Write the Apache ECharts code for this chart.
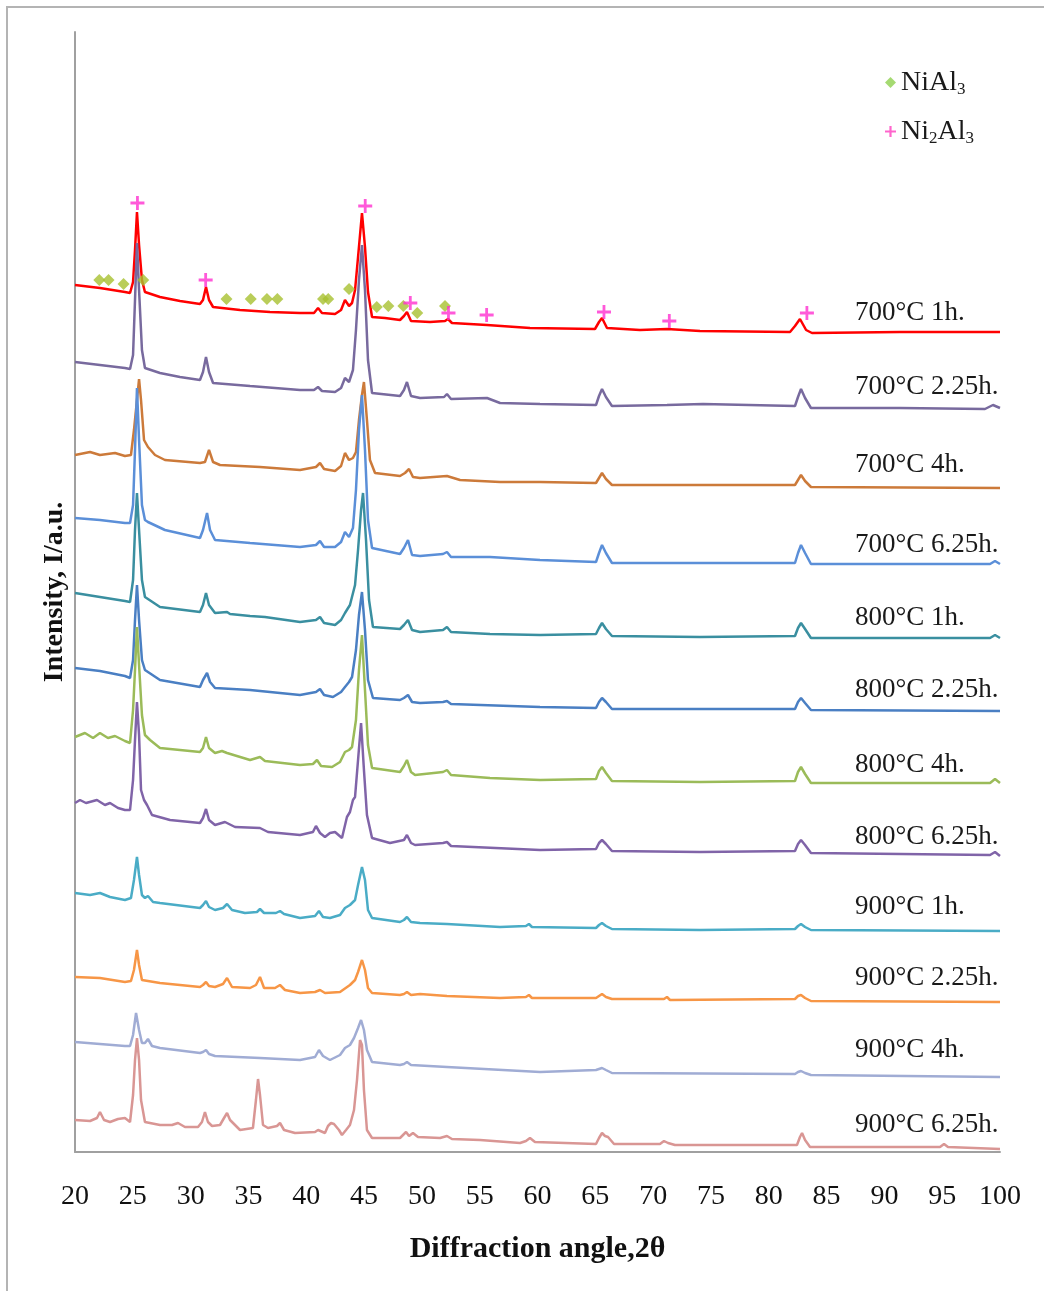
<!DOCTYPE html>
<html>
<head>
<meta charset="utf-8">
<script src="https://cdn.jsdelivr.net/npm/echarts@6/dist/echarts.min.js"></script>
<style>
  html, body { margin: 0; padding: 0; background: #fff; }
  #chart { width: 1044px; height: 1291px; }
</style>
</head>
<body>
<div id="chart"></div>
<script>
// XRD patterns of Ni-Al coatings, stacked by treatment (2θ, intensity offset in a.u.)
const sampleNames = ['700°C 1h.', '700°C 2.25h.', '700°C 4h.', '700°C 6.25h.',
  '800°C 1h.', '800°C 2.25h.', '800°C 4h.', '800°C 6.25h.',
  '900°C 1h.', '900°C 2.25h.', '900°C 4h.', '900°C 6.25h.'];

const xTicks = [20, 25, 30, 35, 40, 45, 50, 55, 60, 65, 70, 75, 80, 85, 90, 95, 100];

const p700_1h = [[20.00,867],[22.16,864],[24.32,860],[24.76,859],[25.02,870],[25.19,902],[25.36,940],[25.54,907],[25.79,872],[26.05,860],[27.35,855],[29.08,851],[30.81,848],[31.07,852],[31.33,865],[31.59,852],[31.94,845],[34.27,842],[36.86,840],[39.46,839],[40.67,839],[41.02,844],[41.36,839],[42.49,838],[43.01,842],[43.35,852],[43.70,846],[43.96,849],[44.22,862],[44.48,895],[44.82,939],[45.08,905],[45.34,860],[45.69,835],[46.81,834],[48.11,832],[48.45,836],[48.71,840],[49.06,831],[50.70,830],[52.00,831],[52.26,833],[52.60,829],[55.63,827],[59.35,824],[64.97,823],[65.32,830],[65.58,834],[66.01,824],[68.86,822],[71.20,823],[74.05,821],[81.84,820],[82.27,826],[82.70,833],[83.23,822],[83.74,819],[91.35,820],[100,820]];

const p700_225h = [[20.00,790],[22.16,787],[24.32,784],[24.76,783],[25.02,797],[25.19,852],[25.36,909],[25.54,862],[25.79,802],[26.05,784],[27.35,779],[29.08,775],[30.81,772],[31.07,780],[31.33,795],[31.59,780],[31.94,769],[35.14,766],[39.46,762],[40.67,762],[41.02,765],[41.36,761],[42.49,760],[43.01,764],[43.35,774],[43.70,770],[44.04,782],[44.30,822],[44.56,872],[44.82,907],[45.08,862],[45.34,792],[45.69,759],[48.11,756],[48.45,762],[48.71,770],[49.06,756],[49.84,754],[51.92,755],[52.17,758],[52.52,753],[55.63,754],[56.76,749],[60.22,748],[65.06,747],[65.32,756],[65.58,763],[65.92,755],[66.44,746],[71.20,747],[74.31,748],[82.27,746],[82.53,755],[82.79,763],[83.14,754],[83.65,744],[91.35,744],[98.70,743],[99.39,747],[100,744]];

const p700_4h = [[20.00,697],[21.30,700],[22.16,697],[23.46,699],[24.32,696],[24.84,697],[25.10,722],[25.36,752],[25.54,773],[25.71,752],[25.97,712],[26.31,705],[26.92,697],[27.78,692],[30.81,689],[31.24,690],[31.59,702],[31.94,690],[32.54,687],[36.00,685],[39.46,682],[40.84,685],[41.19,689],[41.54,683],[42.49,681],[43.01,686],[43.35,699],[43.70,692],[44.04,694],[44.30,700],[44.56,732],[44.82,757],[44.99,770],[45.25,732],[45.51,692],[45.95,679],[48.11,676],[48.54,679],[48.89,683],[49.23,675],[49.84,674],[52.17,676],[53.30,672],[56.76,670],[60.22,670],[65.06,669],[65.32,674],[65.58,679],[65.92,673],[66.44,667],[74.05,667],[82.27,667],[82.53,672],[82.79,677],[83.14,671],[83.65,665],[100,664]];

const p700_625h = [[20.00,634],[22.16,632],[24.32,629],[24.76,629],[25.02,647],[25.19,702],[25.36,764],[25.54,712],[25.79,647],[26.05,632],[26.31,630],[27.78,622],[30.81,614],[31.07,622],[31.42,639],[31.68,622],[32.11,612],[35.14,609],[39.46,605],[40.84,607],[41.19,611],[41.54,605],[42.49,605],[43.01,610],[43.35,620],[43.70,615],[44.04,624],[44.30,662],[44.56,722],[44.82,757],[45.08,702],[45.34,632],[45.69,604],[48.11,598],[48.45,604],[48.80,612],[49.15,597],[49.84,596],[51.83,598],[52.17,600],[52.52,595],[55.89,595],[60.22,592],[65.06,590],[65.32,599],[65.58,607],[65.92,599],[66.44,589],[74.05,589],[82.27,589],[82.53,599],[82.79,607],[83.14,599],[83.65,588],[99.14,588],[99.57,591],[100,588]];

const p800_1h = [[20.00,559],[22.16,555],[24.32,551],[24.76,550],[25.02,572],[25.19,622],[25.36,659],[25.54,622],[25.79,572],[26.05,555],[27.35,545],[30.81,540],[31.07,547],[31.33,559],[31.59,547],[32.11,539],[33.15,540],[33.41,538],[35.14,536],[36.43,535],[39.46,530],[40.84,532],[41.19,535],[41.54,529],[42.49,527],[43.01,532],[43.35,539],[43.78,547],[44.22,567],[44.48,602],[44.74,642],[44.91,659],[45.17,612],[45.43,552],[45.77,525],[48.11,523],[48.45,527],[48.80,532],[49.15,522],[49.84,520],[51.83,522],[52.17,525],[52.52,520],[55.89,518],[60.22,517],[65.06,518],[65.32,524],[65.58,529],[65.92,523],[66.44,516],[74.05,515],[82.27,516],[82.53,524],[82.79,529],[83.14,523],[83.65,514],[99.14,514],[99.57,517],[100,514]];

const p800_225h = [[20.00,484],[22.16,481],[24.32,476],[24.76,474],[25.02,492],[25.19,532],[25.36,567],[25.54,532],[25.79,492],[26.05,482],[27.35,472],[30.81,465],[31.07,472],[31.42,479],[31.68,470],[32.11,464],[35.14,462],[39.46,457],[40.84,460],[41.19,463],[41.54,457],[42.31,455],[43.01,460],[43.35,465],[43.70,470],[43.96,475],[44.30,502],[44.56,537],[44.82,560],[45.08,522],[45.34,472],[45.77,454],[48.11,452],[48.45,454],[48.80,457],[49.15,450],[49.84,449],[51.83,450],[52.17,451],[52.52,448],[60.22,445],[65.06,444],[65.32,450],[65.58,454],[65.92,450],[66.44,443],[74.05,443],[82.27,443],[82.53,450],[82.79,454],[83.14,449],[83.65,442],[100,441]];

const p800_4h = [[20.00,415],[20.86,419],[21.56,414],[22.16,419],[22.85,414],[23.46,416],[24.32,411],[24.76,409],[25.02,442],[25.19,482],[25.36,525],[25.54,487],[25.79,437],[26.05,417],[26.49,412],[27.35,404],[30.81,400],[31.07,404],[31.33,415],[31.59,404],[32.11,399],[32.71,401],[33.15,399],[35.14,392],[36.00,395],[36.43,391],[39.46,387],[40.58,388],[40.93,392],[41.28,386],[42.23,385],[42.92,390],[43.35,400],[43.70,402],[43.96,405],[44.30,432],[44.56,482],[44.82,517],[45.08,462],[45.34,407],[45.69,384],[48.11,380],[48.45,386],[48.71,392],[49.06,380],[49.41,377],[51.83,380],[52.17,382],[52.52,377],[55.89,374],[60.22,372],[65.06,373],[65.32,381],[65.58,385],[65.92,379],[66.44,371],[74.05,370],[82.27,371],[82.53,380],[82.79,385],[83.14,378],[83.65,369],[99.14,369],[99.57,373],[100,369]];

const p800_625h = [[20.00,349],[20.43,352],[20.95,349],[21.90,352],[22.59,347],[23.03,349],[23.72,344],[24.32,342],[24.76,342],[25.02,372],[25.19,412],[25.36,450],[25.54,417],[25.71,362],[25.97,352],[26.23,347],[26.66,337],[28.22,332],[30.81,329],[31.07,334],[31.33,343],[31.59,332],[32.11,327],[32.97,330],[33.84,325],[36.00,324],[36.69,320],[39.46,317],[40.58,320],[40.84,326],[41.19,319],[41.62,315],[42.05,319],[42.49,320],[43.09,314],[43.52,335],[43.78,340],[44.04,352],[44.22,355],[44.48,392],[44.74,429],[44.99,382],[45.25,337],[45.69,314],[47.24,309],[48.45,312],[48.71,317],[49.06,309],[49.41,307],[51.83,309],[52.17,310],[52.52,306],[60.22,302],[65.06,303],[65.32,309],[65.58,312],[65.92,308],[66.44,301],[74.05,300],[82.27,301],[82.53,308],[82.79,312],[83.14,307],[83.65,299],[99.14,297],[99.57,300],[100,296]];

const p900_1h = [[20.00,259],[21.30,257],[22.16,259],[23.03,255],[24.32,252],[24.84,254],[25.10,272],[25.36,295],[25.54,277],[25.79,257],[26.05,254],[26.31,256],[26.75,250],[27.35,249],[30.81,244],[31.07,247],[31.33,251],[31.59,245],[32.11,242],[32.80,244],[33.15,248],[33.58,242],[34.70,239],[35.74,240],[36.00,243],[36.35,239],[37.38,239],[37.73,241],[38.08,238],[39.46,234],[40.76,236],[41.10,241],[41.45,235],[42.05,234],[42.92,237],[43.35,244],[43.78,247],[44.22,252],[44.48,267],[44.82,285],[45.08,272],[45.34,242],[45.69,234],[48.11,230],[48.45,232],[48.71,235],[49.06,230],[49.84,229],[52.17,228],[56.76,225],[59.00,226],[59.26,228],[59.52,225],[65.06,224],[65.32,227],[65.58,229],[65.92,226],[66.44,223],[74.05,222],[82.27,223],[82.53,226],[82.79,228],[83.14,225],[83.65,222],[100,221]];

const p900_225h = [[20.00,175],[22.16,174],[24.32,170],[24.84,171],[25.10,182],[25.36,202],[25.54,187],[25.79,172],[26.31,171],[27.35,169],[30.81,165],[31.07,167],[31.33,170],[31.59,166],[32.11,165],[32.80,168],[33.15,174],[33.58,165],[35.14,164],[35.65,167],[36.00,175],[36.35,164],[37.30,164],[37.73,167],[38.16,162],[39.46,159],[40.76,160],[41.19,162],[41.62,159],[42.92,160],[43.78,167],[44.22,172],[44.48,180],[44.82,192],[45.08,182],[45.34,164],[45.69,159],[48.11,157],[48.45,158],[48.71,160],[49.06,157],[49.84,158],[52.17,156],[56.76,154],[59.00,155],[59.26,157],[59.52,154],[65.06,154],[65.32,156],[65.58,158],[65.92,155],[66.44,153],[70.94,153],[71.20,155],[71.46,152],[82.27,153],[82.53,156],[82.79,157],[83.14,154],[83.65,151],[100,150]];

const p900_4h = [[20.00,110],[22.16,108],[24.32,106],[24.76,106],[25.02,117],[25.28,139],[25.54,122],[25.79,109],[26.05,109],[26.31,113],[26.66,106],[27.35,104],[30.81,99],[31.07,100],[31.33,102],[31.59,98],[32.11,96],[36.00,94],[39.46,92],[40.76,95],[41.10,102],[41.45,96],[42.05,92],[42.92,97],[43.35,104],[43.78,107],[44.13,114],[44.48,124],[44.74,132],[44.99,122],[45.25,102],[45.69,90],[48.11,87],[48.45,88],[48.71,90],[49.06,87],[52.17,85],[60.22,80],[65.06,82],[65.32,83],[65.58,84],[65.92,82],[66.44,79],[82.27,78],[82.53,80],[82.79,81],[83.14,79],[83.65,77],[100,75]];

const p900_625h = [[20.00,32],[21.30,31],[21.90,34],[22.16,40],[22.51,32],[23.03,30],[23.72,33],[24.32,34],[24.76,30],[25.02,57],[25.19,92],[25.36,114],[25.54,92],[25.71,52],[26.05,30],[27.35,27],[28.39,27],[28.91,29],[29.51,25],[30.64,25],[30.98,30],[31.24,40],[31.50,30],[31.85,26],[32.54,27],[32.89,34],[33.15,39],[33.41,32],[34.27,22],[35.39,24],[35.65,52],[35.83,73],[36.00,57],[36.26,27],[36.69,24],[37.47,26],[37.73,29],[38.08,22],[39.03,19],[40.76,20],[41.02,22],[41.62,19],[41.88,26],[42.14,29],[42.40,28],[42.57,30],[42.83,22],[43.09,17],[43.44,22],[43.78,27],[44.13,42],[44.39,72],[44.65,112],[44.82,107],[44.99,62],[45.25,22],[45.69,14],[48.11,14],[48.37,17],[48.63,20],[48.89,16],[49.23,19],[49.66,15],[51.57,14],[52.17,16],[52.60,13],[55.03,12],[58.49,9],[59.00,11],[59.35,14],[59.78,10],[65.06,8],[65.32,14],[65.58,19],[65.84,16],[66.10,15],[66.62,8],[70.59,8],[70.94,11],[71.29,9],[71.89,7],[82.44,7],[82.70,15],[82.88,19],[83.14,12],[83.57,5],[94.81,5],[95.16,8],[95.50,5],[100,3]];

// phase markers drawn over the 700°C 1h. pattern
const niAl3Peaks = [[22.1,872],[22.9,872],[24.2,868],[25.9,872],[33.1,853],[35.2,853],[36.6,853],[37.5,853],[41.45,853],[41.9,853],[43.7,863],[46.1,845],[47.1,846],[48.4,846],[49.6,839],[52.0,846]];
const ni2Al3Peaks = [[25.4,949],[31.3,872],[45.1,946],[49.0,849],[52.3,839],[55.6,837],[65.75,840],[71.4,831],[83.3,839]];

const patterns = [p700_1h, p700_225h, p700_4h, p700_625h, p800_1h, p800_225h, p800_4h, p800_625h, p900_1h, p900_225h, p900_4h, p900_625h];

// anchor (2θ, intensity) for each pattern's caption
const captionX = 87.46;
const captionY = [839, 765, 687, 607, 534, 462, 387, 315, 245, 174, 102, 27];

const lineColors = ['#ff0000', '#786a9e', '#cc7a3a', '#5b8fd8', '#3a8fa0', '#4a7fc3',
  '#9bbb59', '#8064a8', '#4aacc6', '#f79646', '#a0acd4', '#d99694'];

const SERIF = '"Liberation Serif", "Times New Roman", serif';
const PLUS = 'path://M4,0H6V4H10V6H6V10H4V6H0V4H4Z';

const chart = echarts.init(document.getElementById('chart'), null, { renderer: 'canvas' });

const series = patterns.map((pts, i) => ({
  name: sampleNames[i],
  type: 'line',
  data: pts,
  showSymbol: false,
  symbol: 'none',
  smooth: false,
  lineStyle: { color: lineColors[i], width: 2.5 },
  z: 2,
  markPoint: {
    symbol: 'circle',
    symbolSize: 0,
    silent: true,
    data: [{
      coord: [captionX, captionY[i]],
      label: {
        show: true,
        position: 'right',
        distance: 0,
        formatter: sampleNames[i],
        fontFamily: SERIF,
        fontSize: 27,
        color: '#1a1a1a'
      }
    }]
  }
}));

series.push({
  name: 'NiAl3',
  type: 'scatter',
  data: niAl3Peaks,
  symbol: 'diamond',
  symbolSize: 12,
  itemStyle: { color: '#a8c030' },
  z: 5
});
series.push({
  name: 'Ni2Al3',
  type: 'scatter',
  data: ni2Al3Peaks,
  symbol: PLUS,
  symbolSize: 14,
  itemStyle: { color: '#ff30d0' },
  z: 6
});

const option = {
  animation: false,
  backgroundColor: '#ffffff',
  grid: { left: 75, right: 44, top: 32, bottom: 139, containLabel: false },
  xAxis: {
    type: 'value',
    min: 20,
    max: 100,
    interval: 5,
    name: 'Diffraction angle,2θ',
    nameLocation: 'middle',
    nameGap: 82,
    nameTextStyle: { fontFamily: SERIF, fontSize: 30, fontWeight: 'bold', color: '#111', verticalAlign: 'top' },
    axisLine: { show: true, lineStyle: { color: '#a0a0a0', width: 2 } },
    axisTick: { show: false },
    splitLine: { show: false },
    axisLabel: {
      margin: 31,
      fontFamily: SERIF,
      fontSize: 28,
      color: '#111',
      customValues: xTicks,
      formatter: v => String(v)
    }
  },
  yAxis: {
    type: 'value',
    min: 0,
    max: 1120,
    name: 'Intensity, I/a.u.',
    nameLocation: 'middle',
    nameGap: 6,
    nameRotate: 90,
    nameTextStyle: { fontFamily: SERIF, fontSize: 28, fontWeight: 'bold', color: '#111' },
    axisLine: { show: true, lineStyle: { color: '#a0a0a0', width: 2 } },
    axisTick: { show: false },
    axisLabel: { show: false },
    splitLine: { show: false }
  },
  legend: {
    orient: 'vertical',
    left: 880,
    top: 62,
    itemWidth: 11,
    itemHeight: 11,
    itemGap: 18,
    data: [
      { name: 'NiAl3', icon: 'diamond', itemStyle: { color: '#8fd14f' } },
      { name: 'Ni2Al3', icon: PLUS, itemStyle: { color: '#ff3fbf' } }
    ],
    formatter: n => n === 'NiAl3' ? '{t|NiAl}{s|3}' : '{t|Ni}{s|2}{t|Al}{s|3}',
    textStyle: {
      rich: {
        t: { fontFamily: SERIF, fontSize: 28, color: '#1a1a1a', lineHeight: 30 },
        s: { fontFamily: SERIF, fontSize: 17, color: '#1a1a1a', lineHeight: 30, padding: [14, 0, 0, 0] }
      }
    }
  },
  graphic: [{
    type: 'rect',
    shape: { x: 7, y: 7, width: 1100, height: 1400 },
    style: { fill: 'none', stroke: '#b4b4b4', lineWidth: 2 },
    silent: true,
    z: -1
  }],
  series: series
};

chart.setOption(option);
</script>
</body>
</html>
